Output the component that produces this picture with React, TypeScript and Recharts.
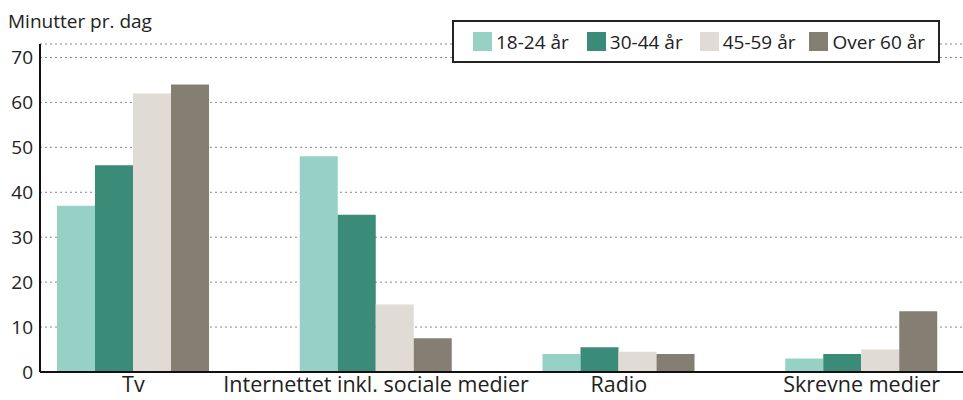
import { BarChart, Bar, XAxis, YAxis, CartesianGrid } from "recharts";

const categories = ["Tv", "Internettet inkl. sociale medier", "Radio", "Skrevne medier"];
const age18to24 = [37, 48, 4, 3];
const age30to44 = [46, 35, 5.5, 4];
const age45to59 = [62, 15, 4.5, 5];
const over60 = [64, 7.5, 4, 13.5];
const yTicks = [0, 10, 20, 30, 40, 50, 60, 70];

const series = [
  { key: "a", label: "18-24 år", color: "#97d1c6", values: age18to24 },
  { key: "b", label: "30-44 år", color: "#3a8b78", values: age30to44 },
  { key: "c", label: "45-59 år", color: "#e0dcd5", values: age45to59 },
  { key: "d", label: "Over 60 år", color: "#847f72", values: over60 },
];

const data = categories.map((name, i) => {
  const row: any = { name };
  series.forEach((s) => (row[s.key] = s.values[i]));
  return row;
});

const font = "'Open Sans', 'Noto Sans', sans-serif";
const legendGaps = [18, 17, 14, 0];

export default function App() {
  return (
    <div style={{ position: "relative", width: 963, height: 400, background: "#fff", fontFamily: font }}>
      <style>{`body{margin:0}`}</style>
      <div style={{ position: "absolute", left: 8, top: 8, fontSize: 19, color: "#222" }}>Minutter pr. dag</div>
      <BarChart
        width={963}
        height={400}
        data={data}
        margin={{ top: 44, right: 0, left: 0, bottom: 0 }}
        barGap={0}
        barSize={38}
      >
        <CartesianGrid horizontal vertical={false} stroke="#888" strokeDasharray="2 3" />
        <XAxis
          dataKey="name"
          height={28}
          axisLine={{ stroke: "#111", strokeWidth: 2 }}
          tickLine={false}
          tickSize={0}
          tickMargin={5}
          padding={{ left: -28, right: -20 }}
          tick={{ fontSize: 21.5, fill: "#222", fontFamily: font }}
          interval={0}
        />
        <YAxis
          domain={[0, 73]}
          ticks={yTicks}
          width={40}
          axisLine={{ stroke: "#111", strokeWidth: 2 }}
          tickLine={false}
          tickSize={0}
          tickMargin={7}
          tick={{ fontSize: 19, fill: "#222", fontFamily: font }}
        />
        {series.map((s) => (
          <Bar key={s.key} dataKey={s.key} name={s.label} fill={s.color} isAnimationActive={false} />
        ))}
      </BarChart>
      <div
        style={{
          position: "absolute",
          left: 452,
          top: 20,
          width: 488,
          height: 43,
          boxSizing: "border-box",
          border: "2px solid #222",
          background: "#fff",
          display: "flex",
          alignItems: "center",
          paddingLeft: 19,
          fontSize: 19,
          color: "#222",
          whiteSpace: "nowrap",
        }}
      >
        {series.map((s, i) => (
          <div key={s.key} style={{ display: "flex", alignItems: "center", flexShrink: 0, marginRight: legendGaps[i] }}>
            <span style={{ width: 19, height: 19, background: s.color, display: "inline-block", marginRight: 4 }} />
            <span>{s.label}</span>
          </div>
        ))}
      </div>
    </div>
  );
}
